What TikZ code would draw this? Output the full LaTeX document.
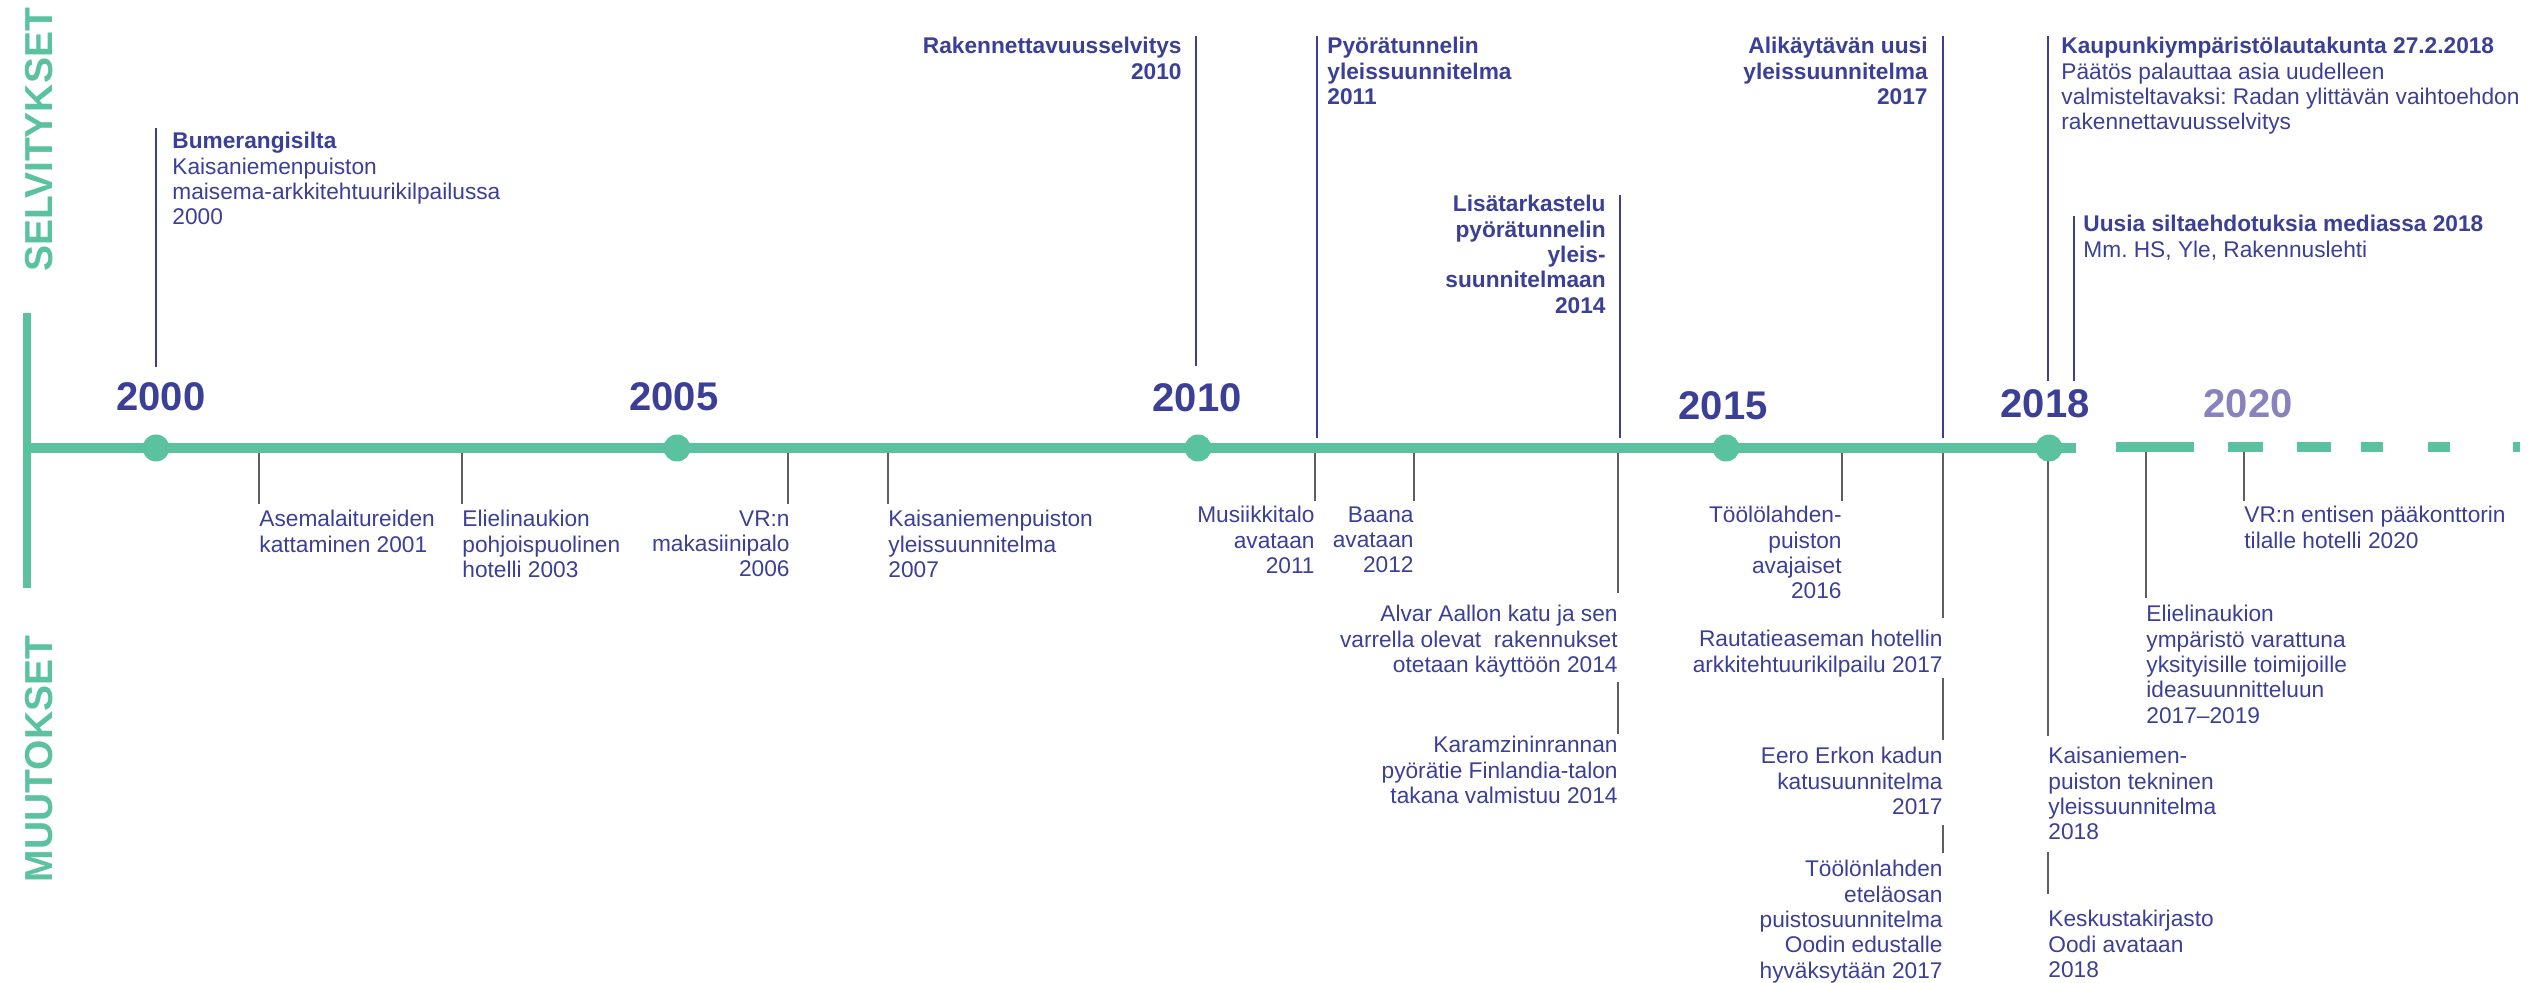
\documentclass[tikz,border=0pt]{standalone}
\usepackage{fontspec}
\setmainfont{Liberation Sans}
\usepackage{tikz}
\usetikzlibrary{positioning}
\frenchspacing
\definecolor{tlgreen}{RGB}{91,194,160}
\definecolor{tlblue}{RGB}{59,63,150}
\definecolor{tlpurple}{RGB}{138,130,191}
\definecolor{tickgray}{RGB}{95,95,95}
\tikzstyle{yr}=[font=\bfseries\fontsize{20}{24}\selectfont, text=tlblue, inner sep=0]
\tikzstyle{side}=[rotate=90, font=\bfseries\fontsize{19.5}{23}\selectfont, text=tlgreen, inner sep=0]
\tikzstyle{dot}=[circle, fill=tlgreen, minimum size=13.5pt, inner sep=0]
\tikzstyle{evline}=[draw=tlblue, line width=1pt]
\tikzstyle{tickln}=[draw=tickgray, line width=0.65pt]
\tikzstyle{up}=[text=tlblue, inner sep=0, font=\fontsize{11.35}{12.65}\selectfont]
\tikzstyle{upb}=[text=tlblue, inner sep=0, font=\bfseries\fontsize{11.35}{12.65}\selectfont]
\tikzstyle{low}=[text=tlblue, inner sep=0, font=\fontsize{11.35}{12.65}\selectfont]

\begin{document}
\begin{tikzpicture}[x=0.5pt,y=-0.5pt]
\useasboundingbox (0,0) rectangle (2536,983);
% side titles
\node[side] (selv) at (39,140) {SELVITYKSET};
\node[side] (muut) at (39,759) {MUUTOKSET};

% year labels
\node[yr] (y00) at (161,397) {2000};
\node[yr] (y05) at (674,397) {2005};
\node[yr] (y10) at (1197,398) {2010};
\node[yr] (y15) at (1723,406) {2015};
\node[yr] (y18) at (2045,404) {2018};
\node[yr, text=tlpurple] (y20) at (2248,404) {2020};

% upper events (selvitykset)
\coordinate (e1a) at (156,128); \coordinate (e1b) at (156,367);
\draw[evline] (e1a) -- (e1b);
\node[up, anchor=north west, align=left] (bum) at (172,132)
  {\textbf{Bumerangisilta}\\Kaisaniemenpuiston\\maisema-arkkitehtuurikilpailussa\\2000};
\coordinate (e2a) at (1196,36); \coordinate (e2b) at (1196,366);
\draw[evline] (e2a) -- (e2b);
\node[upb, anchor=north east, align=right] (rak) at (1182,37)
  {Rakennettavuusselvitys\\2010};
\coordinate (e3a) at (1317,36); \coordinate (e3b) at (1317,438);
\draw[evline] (e3a) -- (e3b);
\node[upb, anchor=north west, align=left] (pyo) at (1327,37)
  {Pyörätunnelin\\yleissuunnitelma\\2011};
\coordinate (e4a) at (1620,195); \coordinate (e4b) at (1620,438);
\draw[evline] (e4a) -- (e4b);
\node[upb, anchor=north east, align=right] (lis) at (1606,195)
  {Lisätarkastelu\\pyörätunnelin\\yleis-\\suunnitelmaan\\2014};
\coordinate (e5a) at (1943,36); \coordinate (e5b) at (1943,438);
\draw[evline] (e5a) -- (e5b);
\node[upb, anchor=north east, align=right] (ali) at (1928,37)
  {Alikäytävän uusi\\yleissuunnitelma\\2017};
\coordinate (e6a) at (2048,36); \coordinate (e6b) at (2048,381);
\draw[evline] (e6a) -- (e6b);
\node[up, anchor=north west, align=left] (kau) at (2061,37)
  {\textbf{Kaupunkiympäristölautakunta 27.2.2018}\\Päätös palauttaa asia uudelleen\\valmisteltavaksi: Radan ylittävän vaihtoehdon\\rakennettavuusselvitys};
\coordinate (e7a) at (2074,216); \coordinate (e7b) at (2074,381);
\draw[evline] (e7a) -- (e7b);
\node[up, anchor=north west, align=left] (uus) at (2083,215)
  {\textbf{Uusia siltaehdotuksia mediassa 2018}\\Mm. HS, Yle, Rakennuslehti};

% lower events (muutokset)
\node[low, anchor=north west, align=left] (ase) at (259,510) {Asemalaitureiden\\kattaminen 2001};
\node[low, anchor=north west, align=left] (eli) at (462,510) {Elielinaukion\\pohjoispuolinen\\hotelli 2003};
\node[low, anchor=north east, align=right] (vrm) at (790,510) {VR:n\\makasiinipalo\\2006};
\node[low, anchor=north west, align=left] (kai) at (888,510) {Kaisaniemenpuiston\\yleissuunnitelma\\2007};
\node[low, anchor=north east, align=right] (mus) at (1315,506) {Musiikkitalo\\avataan\\2011};
\node[low, anchor=north east, align=right] (baa) at (1414,506) {Baana\\avataan\\2012};
\node[low, anchor=north east, align=right] (alv) at (1618,605)
  {Alvar Aallon katu ja sen\\varrella olevat\ \ rakennukset\\otetaan käyttöön 2014};
\node[low, anchor=north east, align=right] (kar) at (1618,736)
  {Karamzininrannan\\pyörätie Finlandia-talon\\takana valmistuu 2014};
\node[low, anchor=north east, align=right] (too) at (1842,506) {Töölölahden-\\puiston\\avajaiset\\2016};
\node[low, anchor=north east, align=right] (rau) at (1943,630)
  {Rautatieaseman hotellin\\arkkitehtuurikilpailu 2017};
\node[low, anchor=north east, align=right] (eer) at (1943,747)
  {Eero Erkon kadun\\katusuunnitelma\\2017};
\node[low, anchor=north east, align=right] (tln) at (1943,860)
  {Töölönlahden\\eteläosan\\puistosuunnitelma\\Oodin edustalle\\hyväksytään 2017};
\node[low, anchor=north west, align=left] (kat) at (2048,747)
  {Kaisaniemen-\\puiston tekninen\\yleissuunnitelma\\2018};
\node[low, anchor=north west, align=left] (kes) at (2048,910) {Keskustakirjasto\\Oodi avataan\\2018};
\node[low, anchor=north west, align=left] (ely) at (2146,605)
  {Elielinaukion\\ympäristö varattuna\\yksityisille toimijoille\\ideasuunnitteluun\\2017–2019};
\node[low, anchor=north west, align=left] (vrh) at (2244,506) {VR:n entisen pääkonttorin\\tilalle hotelli 2020};

% ticks (under the axis)
\coordinate (t01) at (259,448); \coordinate (t03) at (462,448);
\coordinate (t06) at (788,448); \coordinate (t07) at (888,448);
\coordinate (t11) at (1315,448); \coordinate (t12) at (1414,448);
\coordinate (t14) at (1618,448); \coordinate (t16) at (1842,448);
\coordinate (t17) at (1943,448); \coordinate (t18) at (2048,448);
\coordinate (t19) at (2146,448); \coordinate (t20) at (2244,448);
\draw[tickln, shorten >=3pt] (t01) -- (ase.north west);
\draw[tickln, shorten >=3pt] (t03) -- (eli.north west);
\draw[tickln, shorten >=3pt] (t06) -- (t06 |- vrm.north);
\draw[tickln, shorten >=3pt] (t07) -- (kai.north west);
\draw[tickln, shorten >=2.5pt] (t11) -- (mus.north east);
\draw[tickln, shorten >=2.5pt] (t12) -- (baa.north east);
\draw[tickln, shorten >=6pt] (t14) -- (alv.north east);
\draw[tickln, shorten <=2pt, shorten >=1pt] (alv.south east) -- (kar.north east);
\draw[tickln, shorten >=2.5pt] (t16) -- (too.north east);
\draw[tickln, shorten >=6pt] (t17) -- (rau.north east);
\draw[tickln, shorten <=0.5pt, shorten >=3.5pt] (rau.south east) -- (eer.north east);
\draw[tickln, shorten <=5pt, shorten >=3.5pt] (eer.south east) -- (tln.north east);
\draw[tickln, shorten >=5.5pt] (t18) -- (kat.north west);
\draw[tickln, shorten <=6pt, shorten >=8pt] (kat.south west) -- (kes.north west);
\draw[tickln, shorten >=3.5pt] (t19) -- (ely.north west);
\draw[tickln, shorten >=2.5pt] (t20) -- (vrh.north west);

% axis
\coordinate (axt) at (27,313); \coordinate (axb) at (27,588);
\coordinate (ax0) at (27,448); \coordinate (ax1) at (2076,448);
\draw[tlgreen, line width=4pt] (axt) -- (axb);
\draw[tlgreen, line width=4.75pt] (ax0) -- (ax1);
\foreach \a/\b in {2116/2194,2228/2263,2297/2331,2361/2383,2428/2450,2513/2520}
  \draw[tlgreen, line width=5pt] (\a,447) -- (\b,447);
\foreach \x/\n in {156/d00,677/d05,1198/d10,1726/d15,2049/d18}
  \node[dot] (\n) at (\x,448) {};
\end{tikzpicture}
\end{document}
